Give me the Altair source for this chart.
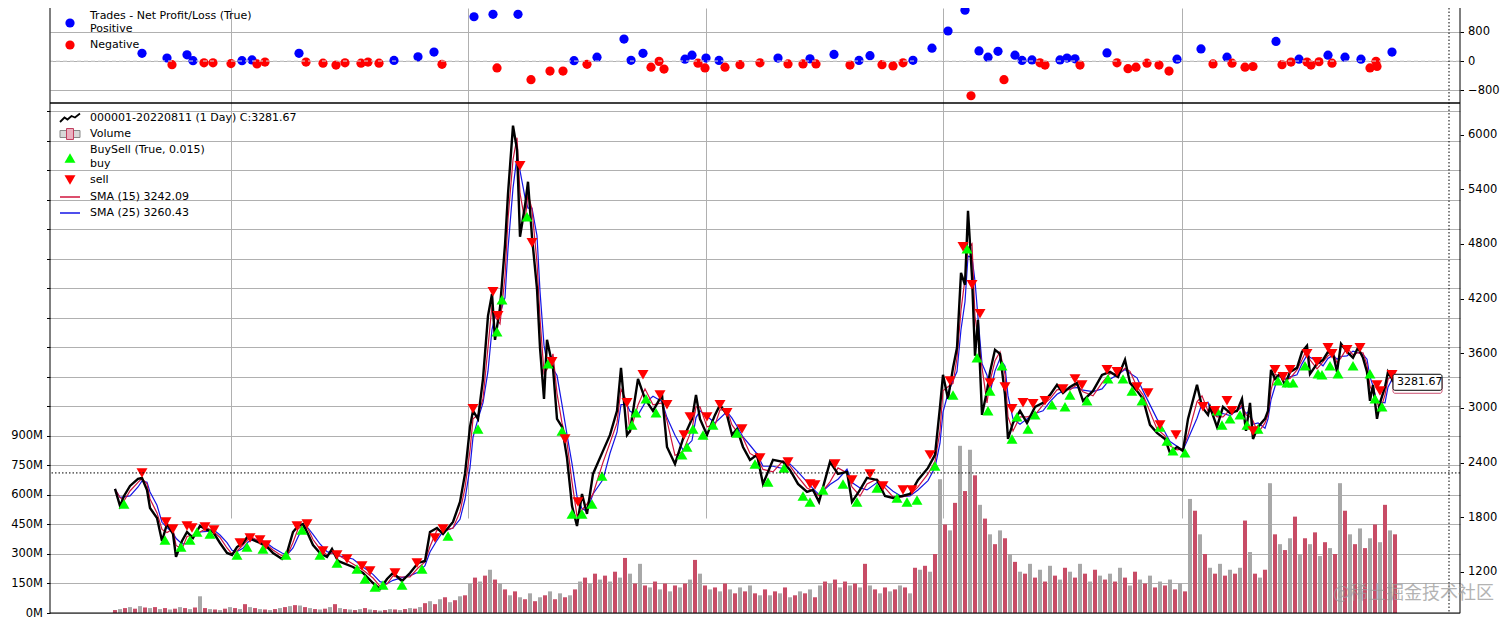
import altair as alt
import pandas as pd

FONT = "DejaVu Sans"
CJK = "Noto Sans CJK SC"

# ---------------- data (x = bar position index) ----------------
price_t = [0, 5, 9, 15, 23, 27, 32, 35, 42, 47, 52, 58, 61, 67, 72, 78, 85, 92, 98, 105,
           112, 117, 122, 128, 133, 138, 145, 152, 158, 167, 172, 178, 183, 188, 193, 198, 205, 212, 217, 223,
           238, 248, 258, 265, 272, 278, 287, 295, 303, 310, 315, 322, 328, 338, 345, 350, 355, 358, 363, 368,
           373, 377, 380, 385, 390, 393, 398, 402, 405, 410, 413, 417, 422, 425, 429, 432, 438, 442, 447, 452,
           457, 462, 467, 472, 478, 488, 495, 502, 506, 512, 515, 523, 530, 538, 547, 552, 560, 568, 577, 581,
           585, 592, 600, 605, 612, 617, 622, 628, 635, 642, 648, 658, 668, 675, 683, 692, 698, 704, 715, 723,
           732, 737, 745, 752, 762, 770, 778, 787, 795, 803, 813, 820, 825, 828, 833, 838, 842, 846, 850, 853,
           857, 860, 863, 867, 872, 875, 880, 885, 890, 893, 898, 905, 912, 920, 928, 935, 942, 948, 955, 962,
           968, 978, 987, 995, 1003, 1010, 1015, 1022, 1028, 1035, 1042, 1050, 1055, 1062, 1068, 1073, 1082, 1087, 1093, 1095,
           1102, 1108, 1115, 1122, 1127, 1131, 1135, 1138, 1143, 1150, 1153, 1156, 1160, 1165, 1170, 1175, 1182, 1187, 1192, 1195,
           1202, 1208, 1213, 1218, 1222, 1226, 1232, 1238, 1243, 1248, 1252, 1255, 1258, 1262, 1265, 1270, 1273, 1277, 1278]
price_close = [2111, 1925, 2034, 2144, 2221, 2232, 2100, 1903, 1793, 1540, 1727, 1617, 1365, 1540, 1639, 1573, 1705, 1661, 1639, 1518,
               1409, 1387, 1474, 1518, 1595, 1551, 1518, 1474, 1409, 1343, 1409, 1639, 1705, 1727, 1617, 1496, 1409, 1365, 1452, 1321,
               1255, 1189, 1079, 1013, 1123, 1189, 1101, 1189, 1299, 1321, 1639, 1683, 1617, 1749, 1969, 2276, 2792, 2968, 2880, 3319,
               4011, 4252, 3747, 4099, 4790, 5350, 6097, 5834, 4878, 5218, 5482, 4878, 4307, 3660, 3100, 3747, 3440, 2880, 2792, 2452,
               1925, 1705, 2056, 1837, 2276, 2529, 2704, 2968, 3440, 2704, 2748, 3319, 3100, 2968, 3143, 2572, 2386, 2660, 2880, 3143,
               2880, 2704, 2924, 3034, 2924, 2704, 2770, 2572, 2430, 2485, 2166, 2430, 2408, 2320, 2166, 2078, 2100, 1969, 2408, 2276,
               2298, 1969, 2100, 2232, 2210, 2034, 2012, 2034, 2056, 2210, 2342, 2485, 3012, 3363, 3100, 3440, 3660, 4483, 4351, 5164,
               4439, 3572, 3967, 2924, 3187, 3396, 3638, 3594, 3143, 2660, 2836, 2968, 2836, 3012, 3056, 3143, 3253, 3165, 3231, 3275,
               3078, 3187, 3363, 3396, 3341, 3528, 3275, 3187, 3100, 2814, 2726, 2660, 2507, 2572, 2529, 2880, 3253, 3012, 2924, 3012,
               2792, 3012, 2946, 2968, 3100, 2748, 3056, 2660, 2792, 2880, 2968, 3418, 3319, 3374, 3253, 3396, 3440, 3616, 3682, 3374,
               3484, 3528, 3616, 3594, 3396, 3704, 3616, 3550, 3660, 3550, 3396, 3078, 3253, 2880, 3056, 3231, 3396, 3319, 3281.67]

vol_step = 5
vol_m = [15, 20, 25, 30, 22, 35, 28, 25, 30, 20, 25, 18, 22, 30, 25, 20, 28, 85, 25, 20, 18, 15, 22, 30, 25,
         20, 45, 30, 25, 20, 18, 15, 20, 25, 30, 35, 40, 38, 30, 25, 20, 18, 22, 30, 45, 25,
         20, 18, 15, 20, 25, 18, 15, 12, 15, 20, 18, 15, 20, 25, 22, 30,
         50, 60, 45, 70, 80, 55, 65, 85, 90,
         150, 180, 160, 190, 220, 170, 150,
         120, 90, 110, 80, 70, 100, 60, 80,
         90, 110, 70, 100, 80, 90, 120,
         160, 180, 150, 200, 170, 190, 160, 210, 180, 280, 200,
         150, 250, 140, 130, 160, 120, 150, 110, 140, 130, 150, 170,
         270, 200, 140, 120, 130, 110, 150, 120, 100, 130, 110, 140, 100, 90,
         120, 90, 110, 100, 130, 80, 90, 110, 100, 120, 80,
         140, 160, 150, 170, 130, 160, 140, 150, 130,
         250, 140, 120, 100, 130, 110, 120, 140, 130, 100, 230,
         220, 240, 210, 300,
         680, 450, 420, 560, 850, 620, 830, 700, 550, 480, 400, 350, 420,
         380, 300, 260, 210,
         200, 250, 180, 220, 160, 240, 190, 170, 230, 210, 180, 250, 200, 160, 220, 190, 170,
         200, 160, 230, 180, 140, 210, 170, 150, 190, 130, 160, 140, 170, 120, 150, 110,
         580, 520, 400, 300,
         230, 200, 250, 190, 220, 200, 230,
         470, 310, 200, 180, 220,
         660, 400, 350, 320, 380,
         490, 300, 380, 350, 410, 290, 360, 330, 300,
         660, 520,
         400, 350, 430, 330, 380, 450, 360, 550, 420, 400]

buy_t = [9, 50, 66, 75, 82, 95, 122, 132, 148, 171, 187, 205, 222,
         242, 250, 260, 268, 287, 307, 333, 363, 382, 387, 412, 433, 447, 457, 467, 477, 487,
         517, 521, 531, 541, 567, 572, 578, 588, 598, 622, 640, 653, 669, 688, 695, 708, 728, 742, 762, 782, 792, 802,
         820, 838, 852, 862, 873, 875, 887, 897, 902, 913, 920, 937, 950, 955, 972, 993, 1008, 1017, 1027, 1045, 1052, 1058, 1070,
         1102, 1107, 1115, 1125, 1132, 1143, 1163, 1172, 1178, 1190, 1203, 1207, 1215, 1223, 1238, 1255, 1260, 1267]
buy_price = [1947, 1551, 1474, 1551, 1639, 1617, 1387, 1474, 1452, 1387, 1661, 1387, 1299,
             1233, 1123, 1035, 1057, 1057, 1233, 1595, 2770, 3835, 4187, 5098, 3484, 2748, 1837, 1837, 1947, 2254,
             2814, 2946, 3100, 2946, 2485, 2572, 2770, 2704, 2814, 2726, 2386, 2188, 2342, 2034, 1969, 2100, 2166, 1969, 2122, 2012, 1969, 1991,
             2364, 3143, 4746, 3550, 2968, 3187, 3462, 2660, 2902, 2770, 2924, 3034, 3012, 3143, 3078, 3319, 3319, 3187, 3078, 2792, 2638, 2529, 2507,
             2968, 2814, 2880, 2924, 2814, 2770, 3297, 3275, 3275, 3462, 3374, 3363, 3462, 3374, 3462, 3374, 3100, 3012]

sell_t = [27, 51, 58, 72, 77, 90, 99, 125, 135, 145, 151, 182, 192, 208, 222,
          232, 247, 255, 280, 302, 320, 328, 358, 378, 383, 405, 417, 437, 450, 463, 512,
          528, 545, 552, 569, 575, 592, 605, 612, 627, 645, 673, 695, 700, 720, 737, 755, 768, 788, 797,
          815, 835, 848, 857, 865, 875, 890, 897, 908, 918, 930, 948, 960, 967, 992, 1002, 1022, 1033, 1045, 1061, 1088,
          1100, 1112, 1117, 1138, 1160, 1168, 1175, 1192, 1202, 1213, 1217, 1232, 1245, 1262, 1265, 1277]
sell_price = [2287, 1749, 1672, 1705, 1683, 1694, 1661, 1518, 1573, 1551, 1496, 1705, 1727, 1431, 1387,
              1343, 1266, 1211, 1189, 1299, 1573, 1672, 2990, 4274, 4011, 5658, 4812, 3506, 2660, 1969, 3056,
              3363, 3143, 3034, 2704, 2902, 2902, 3034, 2946, 2770, 2452, 2408, 2166, 2155, 2386, 2210, 2276, 2144, 2100, 2100,
              2485, 3297, 4768, 4351, 4033, 3275, 3231, 2990, 3056, 3045, 3078, 3209, 3319, 3253, 3418, 3396, 3231, 3165, 2814, 2704, 3012,
              2968, 3078, 2968, 2748, 3418, 3341, 3418, 3594, 3506, 3660, 3594, 3638, 3660, 3253, 3187, 3363]

win_t = [27, 52, 72, 78, 127, 137, 184, 279, 303, 319, 359, 378, 403, 459, 482, 509, 516,
         528, 570, 577, 591, 604, 663, 695, 719, 744, 755, 798,
         817, 833, 850, 864, 873, 883, 900, 907, 917, 945, 952, 960, 992, 1062, 1086,
         1112, 1161, 1184, 1213, 1230, 1246, 1277]
win_pnl = [211, 82, 170, 10, 10, 30, 211, 15, 115, 245, 1210, 1275, 1275, 10, 105, 600, 20,
           210, 50, 160, 80, 15, 80, 60, 180, 15, 145, 20,
           350, 820, 1390, 275, 105, 265, 160, 15, 30, 30, 80, 60, 220, 50, 330,
           105, 535, 50, 160, 105, 50, 245]

loss_t = [57, 89, 98, 116, 142, 150, 191, 208, 221, 230, 246, 253, 264, 327, 382, 416, 435, 448, 472,
          536, 544, 549, 583, 590, 610, 625, 645, 673, 688, 701, 735, 767, 778, 788,
          856, 889, 925, 930, 965, 1002, 1013, 1021, 1032, 1044, 1054,
          1098, 1117, 1130, 1138, 1167, 1176, 1192, 1196, 1204, 1217, 1255, 1262, 1261]
loss_pnl = [-100, -50, -50, -70, -80, -30, -30, -60, -110, -50, -60, -30, -60, -90, -190, -510, -275, -275, -90,
            -170, -10, -220, -60, -190, -170, -100, -50, -80, -80, -80, -110, -100, -135, -50,
            -950, -510, -50, -110, -110, -50, -210, -170, -60, -110, -275,
            -80, -60, -170, -150, -100, -30, -30, -110, -20, -60, -190, -150, -10]

x_grid_t = [116, 353, 591, 828, 1067]
price_ticks = [1200, 1800, 2400, 3000, 3600, 4200, 4800, 5400, 6000]
trade_ticks = [-800, 0, 800]
vol_ticks = list(range(0, 2551, 150))
cursor_t = 1334
cursor_price = 2287
last_t = 1278
last_close = 3281.67

title_trades = "Trades - Net Profit/Loss (True)"
lbl_positive = "Positive"
lbl_negative = "Negative"
lbl_data = "000001-20220811 (1 Day) C:3281.67"
lbl_volume = "Volume"
lbl_buysell = "BuySell (True, 0.015)"
lbl_buy = "buy"
lbl_sell = "sell"
lbl_sma15 = "SMA (15) 3242.09"
lbl_sma25 = "SMA (25) 3260.43"
watermark = "@稀土掘金技术社区"

# ---------------- layout / styles ----------------
W, H, TOP_H = 1410, 605, 95
GRID = "#b0b0b0"
RED_VOL = "#c84c66"
GRAY_VOL = "#a8a8a8"
SMA15_C = "#d0143c"
SMA25_C = "#1414e6"

price_df = pd.DataFrame({"t": price_t, "close": price_close})
vol_df = pd.DataFrame({"t": [i * vol_step for i in range(len(vol_m))], "v": vol_m, "i": list(range(len(vol_m)))})
buy_df = pd.DataFrame({"t": buy_t, "p": buy_price})
sell_df = pd.DataFrame({"t": sell_t, "p": sell_price})
win_df = pd.DataFrame({"t": win_t, "pnl": win_pnl})
loss_df = pd.DataFrame({"t": loss_t, "pnl": loss_pnl})
one = pd.DataFrame({"a": [0]})

xs = alt.Scale(domain=[-65, 1345], nice=False, zero=False, padding=0)
x_axis = alt.Axis(values=x_grid_t, grid=True, gridColor=GRID, gridWidth=1, labels=False,
                  ticks=False, domain=False, title=None, orient="bottom")
X = alt.X("t:Q", scale=xs, axis=x_axis)

price_scale = alt.Scale(domain=[750, 6346], range=[H, TOP_H], nice=False, zero=False)
vol_scale = alt.Scale(domain=[0, 2593], range=[H, TOP_H], nice=False, zero=False)
trade_scale = alt.Scale(domain=[-1148, 1449], range=[TOP_H, 0], nice=False, zero=False)

vol_axis = alt.Axis(orient="left", values=vol_ticks, grid=True, gridColor=GRID, gridWidth=1,
                    labelExpr="datum.value <= 900 ? datum.value + 'M' : ''", tickSize=3.5,
                    domain=False, title=None, labelPadding=4, labelOverlap=False)
price_axis = alt.Axis(orient="right", values=price_ticks, grid=False, format="d", tickSize=3.5,
                      domain=False, title=None, labelPadding=4, labelOverlap=False)
trade_axis = alt.Axis(orient="right", values=trade_ticks, grid=True, gridColor=GRID, gridWidth=1,
                      format="d", tickSize=3.5, domain=False, title=None, labelPadding=4, labelOverlap=False)

layers = []

# volume
layers.append(alt.Chart(vol_df).mark_bar(size=4).encode(
    x=X, y=alt.Y("v:Q", scale=vol_scale, axis=vol_axis),
    color=alt.condition("datum.i % 2 == 0", alt.value(RED_VOL), alt.value(GRAY_VOL))))

# SMA lines
sma_base = alt.Chart(price_df).transform_window(
    sma15="mean(close)", frame=[-1, 0], sort=[alt.SortField("t")]
).transform_window(
    sma25="mean(close)", frame=[-2, 0], sort=[alt.SortField("t")])
layers.append(sma_base.mark_line(color=SMA25_C, strokeWidth=1.2).encode(
    x=X, y=alt.Y("sma25:Q", scale=price_scale, axis=None)))
layers.append(sma_base.mark_line(color=SMA15_C, strokeWidth=1.2).encode(
    x=X, y=alt.Y("sma15:Q", scale=price_scale, axis=None)))

# price
layers.append(alt.Chart(price_df).mark_line(color="black", strokeWidth=2.4).encode(
    x=X, y=alt.Y("close:Q", scale=price_scale, axis=price_axis)))

# buy / sell
layers.append(alt.Chart(buy_df).mark_point(shape="triangle-up", filled=True, size=120, color="#00ff00",
                                           opacity=1, strokeWidth=0).encode(
    x=X, y=alt.Y("p:Q", scale=price_scale, axis=None)))
layers.append(alt.Chart(sell_df).mark_point(shape="triangle-down", filled=True, size=120, color="#ff0000",
                                            opacity=1, strokeWidth=0).encode(
    x=X, y=alt.Y("p:Q", scale=price_scale, axis=None)))

# trades panel
layers.append(alt.Chart(win_df).mark_point(shape="circle", filled=True, size=85, color="#0000ff",
                                           opacity=1, strokeWidth=0).encode(
    x=X, y=alt.Y("pnl:Q", scale=trade_scale, axis=trade_axis)))
layers.append(alt.Chart(loss_df).mark_point(shape="circle", filled=True, size=85, color="#ff0000",
                                            opacity=1, strokeWidth=0).encode(
    x=X, y=alt.Y("pnl:Q", scale=trade_scale, axis=None)))
layers.append(alt.Chart(pd.DataFrame({"z": [0]})).mark_rule(color="#d8d8d8", strokeDash=[4, 3], strokeWidth=1).encode(
    y=alt.Y("z:Q", scale=trade_scale, axis=None)))

# cursor lines
layers.append(alt.Chart(pd.DataFrame({"t": [cursor_t]})).mark_rule(color="black", strokeDash=[1.5, 2], strokeWidth=1).encode(x=X))
layers.append(alt.Chart(pd.DataFrame({"p": [cursor_price]})).mark_rule(color="black", strokeDash=[1.5, 2], strokeWidth=1).encode(
    y=alt.Y("p:Q", scale=price_scale, axis=None)))

# last value label
last_df = pd.DataFrame({"t": [last_t], "p": [last_close]})
layers.append(alt.Chart(last_df).mark_rect(fill="white", stroke="#cc5070", strokeWidth=1, x2Offset=49,
                                           yOffset=-5, y2Offset=11, cornerRadius=2).encode(
    x=X, x2=alt.X2("t"), y=alt.Y("p:Q", scale=price_scale, axis=None), y2=alt.Y2("p")))
layers.append(alt.Chart(last_df).mark_rect(fill="white", stroke="black", strokeWidth=1, x2Offset=49,
                                           yOffset=-8, y2Offset=8, cornerRadius=2).encode(
    x=X, x2=alt.X2("t"), y=alt.Y("p:Q", scale=price_scale, axis=None), y2=alt.Y2("p")))
layers.append(alt.Chart(last_df).mark_text(align="left", baseline="middle", dx=4, font=FONT, fontSize=11,
                                           color="black").encode(
    x=X, y=alt.Y("p:Q", scale=price_scale, axis=None), text=alt.Text("p:Q", format=".2f")))


# spines
def rule(**enc):
    kw = {k: alt.value(v) for k, v in enc.items() if k in ("x", "x2", "y", "y2")}
    sw = enc.get("sw", 1)
    return alt.Chart(one).mark_rule(color="black", strokeWidth=sw).encode(**kw)


layers.append(rule(x=0, y=0, y2=H))
layers.append(rule(x=W, y=0, y2=H))
layers.append(rule(x=0, x2=W, y=H))
layers.append(rule(x=0, x2=W, y=TOP_H, sw=1.6))


# legends
def txt(s, x, y, size=11, color="black", font=FONT, **kw):
    return alt.Chart(one).mark_text(text=s, align="left", baseline="middle", font=font, fontSize=size,
                                    color=color, **kw).encode(x=alt.value(x), y=alt.value(y))


def sym(x, y, shape, size, fill=None, stroke=None, sw=0, filled=True):
    props = dict(shape=shape, size=size, opacity=1, strokeWidth=sw, filled=filled)
    if fill is not None:
        props["fill"] = fill
    if stroke is not None:
        props["stroke"] = stroke
    return alt.Chart(one).mark_point(**props).encode(x=alt.value(x), y=alt.value(y))


layers += [
    sym(20, 15, "circle", 85, fill="#0000ff"),
    txt(title_trades, 40, 8),
    txt(lbl_positive, 40, 21),
    sym(20, 37, "circle", 85, fill="#ff0000"),
    txt(lbl_negative, 40, 37),
    sym(20, 110, "M-1,0.4 L-0.55,-0.05 L-0.25,0.15 L0.15,-0.2 L0.5,-0.05 L1,-0.45", 400,
        stroke="black", sw=1.8, filled=False),
    txt(lbl_data, 40, 110),
    sym(20, 126, "M-1,-0.35H1V0.35H-1Z", 400, fill="#d8d8d8", stroke="#888888", sw=1),
    sym(20, 126, "M-0.35,-0.55H0.35V0.55H-0.35Z", 400, fill="#eab0bf", stroke="#c04060", sw=1),
    txt(lbl_volume, 40, 126),
    txt(lbl_buysell, 40, 142),
    sym(20, 150, "triangle-up", 120, fill="#00ff00"),
    txt(lbl_buy, 40, 156),
    sym(20, 172, "triangle-down", 120, fill="#ff0000"),
    txt(lbl_sell, 40, 172),
    alt.Chart(one).mark_rule(color=SMA15_C, strokeWidth=1.5).encode(x=alt.value(10), x2=alt.value(30), y=alt.value(189)),
    txt(lbl_sma15, 40, 189),
    alt.Chart(one).mark_rule(color=SMA25_C, strokeWidth=1.5).encode(x=alt.value(10), x2=alt.value(30), y=alt.value(205)),
    txt(lbl_sma25, 40, 205),
    txt(watermark, 1283, 586, size=18, color="#9a9a9a", font=CJK, opacity=0.75),
]

chart = alt.layer(*layers).resolve_scale(y="independent").properties(
    width=W, height=H,
    autosize=alt.AutoSizeParams(type="none"),
    padding={"left": 42, "top": 0, "right": 44, "bottom": 8},
).configure_view(stroke=None).configure_axis(
    labelFont=FONT, labelFontSize=11.5, labelColor="black", tickColor="black", tickWidth=1)

chart.save("out.html", embed_options={"renderer": "svg", "actions": False})
